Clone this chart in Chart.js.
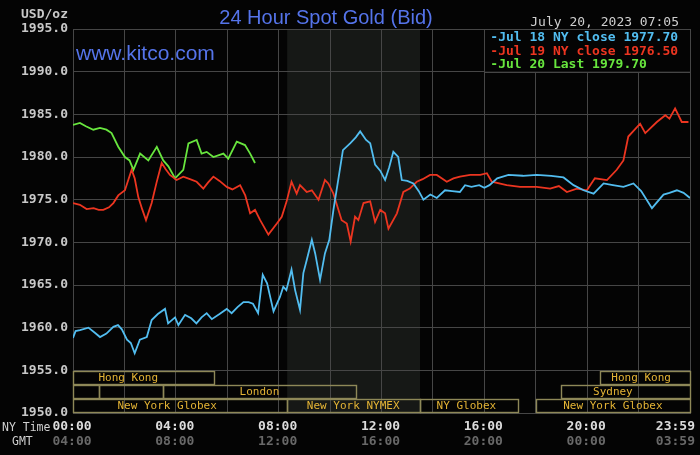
<!DOCTYPE html>
<html><head><meta charset="utf-8">
<script src="https://cdn.jsdelivr.net/npm/chart.js@4.4.0/dist/chart.umd.min.js"></script>
<style>html,body{margin:0;padding:0;background:#040404;overflow:hidden}#wrap{width:700px;height:455px;position:relative}</style>
</head><body><div id="wrap"><canvas id="c" width="700" height="455"></canvas></div>
<script>
// ---- data (hours after NY midnight, price USD/oz) ----
const jul18Hours = [0,0.1,0.27,0.6,0.85,1.05,1.3,1.57,1.75,1.9,2.1,2.25,2.4,2.6,2.87,3.06,3.3,3.58,3.7,3.97,4.1,4.36,4.6,4.8,5.0,5.2,5.4,5.7,5.98,6.17,6.4,6.63,6.83,7.0,7.2,7.38,7.55,7.8,8.05,8.18,8.3,8.5,8.64,8.83,8.96,9.09,9.29,9.42,9.61,9.8,9.97,10.13,10.3,10.5,10.78,11.0,11.17,11.4,11.56,11.75,11.95,12.14,12.3,12.46,12.65,12.79,13.0,13.24,13.45,13.63,13.9,14.15,14.47,14.75,15.05,15.25,15.5,15.8,16.0,16.2,16.5,16.94,17.5,18.04,18.6,19.08,19.47,19.86,20.25,20.64,21.0,21.41,21.8,22.1,22.52,22.97,23.2,23.49,23.75,24];
const jul18Prices = [1958.8,1959.6,1959.7,1960.0,1959.4,1958.9,1959.3,1960.1,1960.3,1959.8,1958.6,1958.2,1957.0,1958.6,1958.9,1960.9,1961.6,1962.2,1960.5,1961.2,1960.3,1961.5,1961.1,1960.5,1961.2,1961.7,1961.0,1961.6,1962.2,1961.7,1962.4,1963.0,1963.0,1962.8,1961.7,1966.2,1965.2,1961.9,1963.6,1964.8,1964.4,1966.8,1964.4,1962.1,1966.4,1967.9,1970.3,1968.7,1965.6,1968.7,1970.3,1973.8,1977.0,1980.8,1981.6,1982.3,1983.0,1982.0,1981.6,1979.1,1978.4,1977.3,1978.8,1980.6,1980.0,1977.3,1977.2,1976.9,1976.0,1975.0,1975.6,1975.2,1976.1,1976.0,1975.9,1976.7,1976.5,1976.7,1976.4,1976.7,1977.5,1977.9,1977.8,1977.9,1977.8,1977.6,1976.7,1976.1,1975.7,1976.9,1976.7,1976.5,1976.9,1976.0,1974.0,1975.6,1975.8,1976.1,1975.8,1975.2];

const jul19Hours = [0,0.27,0.53,0.8,1.0,1.18,1.4,1.57,1.76,2.02,2.28,2.4,2.54,2.7,2.84,3.06,3.25,3.45,3.6,3.77,4.03,4.29,4.55,4.81,5.07,5.25,5.46,5.7,5.98,6.2,6.5,6.7,6.89,7.08,7.28,7.6,7.93,8.12,8.31,8.5,8.7,8.83,9.09,9.29,9.55,9.8,9.93,10.13,10.45,10.65,10.8,10.97,11.1,11.3,11.56,11.75,11.95,12.14,12.27,12.6,12.85,13.1,13.37,13.6,13.89,14.15,14.54,14.8,15.05,15.45,15.84,16.1,16.29,16.87,17.39,18.04,18.56,18.9,19.21,19.6,19.99,20.3,20.77,21.15,21.41,21.6,22.06,22.26,22.71,23.04,23.2,23.42,23.68,23.94];
const jul19Prices = [1974.6,1974.4,1973.9,1974.0,1973.8,1973.8,1974.1,1974.6,1975.5,1976.1,1978.5,1977.5,1975.3,1973.8,1972.6,1974.6,1977.0,1979.3,1978.6,1977.9,1977.3,1977.7,1977.4,1977.1,1976.3,1977.0,1977.7,1977.2,1976.5,1976.2,1976.7,1975.5,1973.4,1973.8,1972.6,1970.9,1972.2,1973.0,1974.8,1977.1,1975.7,1976.7,1975.9,1976.1,1975.0,1977.3,1976.9,1975.7,1972.6,1972.2,1970.1,1973.0,1972.6,1974.6,1974.8,1972.4,1973.8,1973.4,1971.6,1973.4,1975.9,1976.3,1977.1,1977.4,1977.9,1977.9,1977.1,1977.5,1977.7,1977.9,1977.9,1978.1,1977.1,1976.7,1976.5,1976.5,1976.3,1976.6,1975.9,1976.3,1976.1,1977.5,1977.3,1978.5,1979.6,1982.4,1983.9,1982.8,1984.1,1984.9,1984.5,1985.7,1984.1,1984.1];

const jul20Hours = [0,0.27,0.5,0.79,1.05,1.3,1.5,1.76,2.02,2.2,2.35,2.61,2.93,3.26,3.51,3.71,3.97,4.29,4.49,4.81,5.0,5.2,5.46,5.85,6.04,6.37,6.69,6.89,7.08];
const jul20Prices = [1983.75,1984.0,1983.6,1983.2,1983.4,1983.2,1982.8,1981.2,1980.0,1979.6,1978.5,1980.4,1979.6,1981.2,1979.6,1978.9,1977.5,1978.5,1981.6,1982.0,1980.4,1980.6,1980.0,1980.4,1979.8,1981.8,1981.4,1980.4,1979.3];

const legendLabels = ['Jul 18 NY close 1977.70','Jul 19 NY close 1976.50','Jul 20 Last 1979.70'];
const labelHours = [0,4,8,12,16,20,24];
const nyTimeLabels = ['00:00','04:00','08:00','12:00','16:00','20:00','23:59'];
const gmtTimeLabels = ['04:00','08:00','12:00','16:00','20:00','00:00','03:59'];

const sessionNames = ['Hong Kong','','','London','New York Globex','New York NYMEX','NY Globex','New York Globex','Sydney','Hong Kong'];
const sessionStart = [0,0,1,3.5,0,8.33,13.5,18,19,20.5];
const sessionEnd   = [5.5,1,3.5,11,8.33,13.5,17.33,24,24,24];
const sessionRow   = [0,1,1,1,2,2,2,2,1,0];
const sessionLabelAt = [2.15,0,0,7.25,3.66,10.9,15.3,21,21,22.1];
const nymexHours = [8.33,13.5];

// ---- style ----
const BG = '#040404';
const GRID = '#464646';
const COLORS = ['#52bdf0','#ec3520','#68e63e'];
const MONO = '"DejaVu Sans Mono", monospace';

const toXY = (h, p) => h.map((v, i) => ({x: v, y: p[i]}));

const decor = {
  id: 'decor',
  beforeDraw(chart) {
    const {ctx, chartArea: a, scales: {x}} = chart;
    ctx.save();
    ctx.fillStyle = BG;
    ctx.fillRect(0, 0, chart.width, chart.height);
    ctx.fillStyle = '#161816';
    const x0 = x.getPixelForValue(nymexHours[0]), x1 = x.getPixelForValue(nymexHours[1]);
    ctx.fillRect(x0, a.top, x1 - x0, a.bottom - a.top);
    ctx.restore();
  },
  afterDatasetsDraw(chart) {
    const {ctx, chartArea: a, scales: {x, y}} = chart;
    ctx.save();
    // session boxes
    ctx.lineWidth = 1.4;
    ctx.strokeStyle = '#8e8858';
    ctx.fillStyle = '#e4b435';
    ctx.font = '11px ' + MONO;
    ctx.textAlign = 'center';
    ctx.textBaseline = 'middle';
    for (let i = 0; i < sessionNames.length; i++) {
      const top = a.bottom - 42 + sessionRow[i] * 14;
      const x0 = x.getPixelForValue(sessionStart[i]);
      const x1 = x.getPixelForValue(sessionEnd[i]);
      ctx.strokeRect(Math.round(x0) + 0.5, top + 0.5, Math.round(x1 - x0), 13);
      if (sessionNames[i]) ctx.fillText(sessionNames[i], x.getPixelForValue(sessionLabelAt[i]), top + 7.5);
    }
    // legend box
    const lx0 = x.getPixelForValue(16), lx1 = x.getPixelForValue(24);
    const ly0 = y.getPixelForValue(1995), ly1 = y.getPixelForValue(1990);
    ctx.fillStyle = BG;
    ctx.fillRect(lx0, ly0, lx1 - lx0, ly1 - ly0);
    ctx.strokeStyle = GRID;
    ctx.lineWidth = 1;
    ctx.strokeRect(Math.round(lx0) + 0.5, Math.round(ly0) + 0.5, Math.round(lx1 - lx0), Math.round(ly1 - ly0));
    ctx.font = 'bold 13px ' + MONO;
    ctx.textAlign = 'left';
    ctx.textBaseline = 'alphabetic';
    legendLabels.forEach((t, i) => {
      ctx.fillStyle = COLORS[i];
      ctx.fillText('-' + t, lx0 + 6, ly0 + 12 + i * 13.6);
    });
    ctx.restore();
  },
  afterDraw(chart) {
    const {ctx, scales: {x}} = chart;
    ctx.save();
    // title
    ctx.fillStyle = '#5574ea';
    ctx.font = '20px "Liberation Sans", Arial, sans-serif';
    ctx.textAlign = 'center';
    ctx.fillText('24 Hour Spot Gold (Bid)', 326, 24);
    ctx.font = '21px "Liberation Sans", Arial, sans-serif';
    ctx.textAlign = 'left';
    ctx.fillText('www.kitco.com', 76, 60);
    // date
    ctx.fillStyle = '#cfcfcf';
    ctx.font = '13px ' + MONO;
    ctx.textAlign = 'right';
    ctx.fillText('July 20, 2023 07:05', 679, 26);
    ctx.font = 'bold 13px ' + MONO;
    ctx.fillStyle = '#c8c8c8';
    ctx.fillText('USD/oz', 68, 18);
    // bottom labels
    ctx.font = '11.5px ' + MONO;
    ctx.textAlign = 'left';
    ctx.fillStyle = '#d0d0d0';
    ctx.fillText('NY Time', 2, 431);
    ctx.fillText('GMT', 12, 445);
    ctx.font = 'bold 13px ' + MONO;
    labelHours.forEach((h, i) => {
      let px = x.getPixelForValue(h) - 1;
      ctx.textAlign = 'center';
      if (i === labelHours.length - 1) { ctx.textAlign = 'right'; px = x.getPixelForValue(h) + 5; }
      ctx.fillStyle = '#dcdcdc';
      ctx.fillText(nyTimeLabels[i], px, 430);
      ctx.fillStyle = '#686868';
      ctx.fillText(gmtTimeLabels[i], px, 445);
    });
    ctx.restore();
  }
};

const mkSet = (h, p, c) => ({data: toXY(h, p), borderColor: c, borderWidth: 1.8, pointRadius: 0, tension: 0, fill: false});

new Chart(document.getElementById('c'), {
  type: 'line',
  data: { datasets: [
    mkSet(jul18Hours, jul18Prices, COLORS[0]),
    mkSet(jul19Hours, jul19Prices, COLORS[1]),
    mkSet(jul20Hours, jul20Prices, COLORS[2])
  ]},
  options: {
    responsive: false,
    animation: false,
    devicePixelRatio: 1,
    layout: { padding: { top: 29, right: 10, left: 0, bottom: 0 } },
    plugins: { legend: { display: false }, title: { display: false }, tooltip: { enabled: false } },
    scales: {
      x: {
        type: 'linear', min: 0, max: 24,
        ticks: { display: false, stepSize: 2 },
        grid: { color: GRID, drawTicks: false, lineWidth: 1 },
        border: { display: true, color: GRID },
        afterFit(s) { s.height = 42; }
      },
      y: {
        min: 1950, max: 1995,
        ticks: { stepSize: 5, padding: 5, color: '#c8c8c8', font: { family: MONO, size: 13, weight: 'bold' }, callback: v => v.toFixed(1) },
        grid: { color: GRID, drawTicks: false, lineWidth: 1 },
        border: { display: true, color: GRID },
        afterFit(s) { s.width = 73; }
      }
    }
  },
  plugins: [decor]
});
</script>
</body></html>
